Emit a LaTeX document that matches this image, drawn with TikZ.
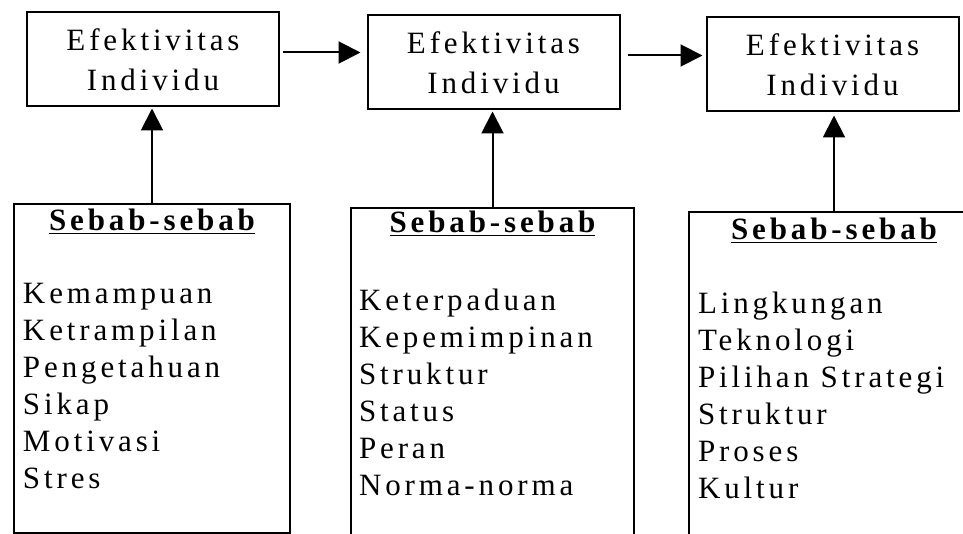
\documentclass[tikz,border=0pt]{standalone}
\usepackage{fontspec}
\setmainfont{Liberation Serif}
\usetikzlibrary{arrows.meta}
\tikzset{>={Triangle[width=22pt,length=22pt]}}

\begin{document}
\begin{tikzpicture}[x = 1pt, y = -1pt, line width = 2pt,
		effbox/.style = {draw, align = center, inner sep = 0pt, minimum width = 252pt, minimum height = 94pt,
			font = \fontsize{31}{40}\selectfont\addfontfeatures{LetterSpace=12.5}},
		causebox/.style = {draw, anchor = north west, inner sep = 0pt},
		causehead/.style = {anchor = base, inner sep = 0pt,
			font = \fontsize{31}{37}\selectfont\bfseries\addfontfeatures{LetterSpace=12.5}},
		causelist/.style = {anchor = base west, align = left, inner sep = 0pt,
			font = \fontsize{31}{37}\selectfont\addfontfeatures{LetterSpace=12.5}}]
		\clip (0,0) rectangle (963,534);
		\node (e1) [effbox] at (153,59.5) {Efektivitas\\Individu};
		\node (e2) [effbox] at (493.5,62.5) {Efektivitas\\Individu};
		\node (e3) [effbox] at (832.5,64.5) {Efektivitas\\Individu};
		\node (c1) [causebox, minimum width = 276pt, minimum height = 329pt] at (13,203) {};
		\node (c2) [causebox, minimum width = 283pt, minimum height = 340pt] at (350,207) {};
		\node (c3) [causebox, minimum width = 290pt, minimum height = 340pt] at (688,211) {};
		\node (h1) [causehead] at ([yshift=-28pt]c1.north) {\underline{Sebab-sebab}};
		\node (h2) [causehead] at ([yshift=-26pt]c2.north) {\underline{Sebab-sebab}};
		\node (h3) [causehead] at ([yshift=-29pt]c3.north) {\underline{Sebab-sebab}};
		\node (l1) [causelist] at ([xshift=9pt, yshift=-285pt]c1.north west)
			{Kemampuan\\Ketrampilan\\Pengetahuan\\Sikap\\Motivasi\\Stres};
		\node (l2) [causelist] at ([xshift=8pt, yshift=-288pt]c2.north west)
			{Keterpaduan\\Kepemimpinan\\Struktur\\Status\\Peran\\Norma-norma};
		\node (l3) [causelist] at ([xshift=9pt, yshift=-287pt]c3.north west)
			{Lingkungan\\Teknologi\\Pilihan Strategi\\Struktur\\Proses\\Kultur};
		\draw[->, shorten <= 3pt, shorten >= 6pt] ([yshift=7pt]e1.east) -- ([yshift=7pt]e1.east -| e2.west);
		\draw[->, shorten <= 7pt, shorten >= 3pt] ([yshift=7pt]e2.east) -- ([yshift=7pt]e2.east -| e3.west);
		\draw[->, shorten >= 1pt] (c1.north) -- (c1.north |- e1.south);
		\draw[->, shorten >= 1pt] (c2.north) -- (c2.north |- e2.south);
		\draw[->, shorten >= 3pt] (c3.north) -- (c3.north |- e3.south);
\end{tikzpicture}
\end{document}
